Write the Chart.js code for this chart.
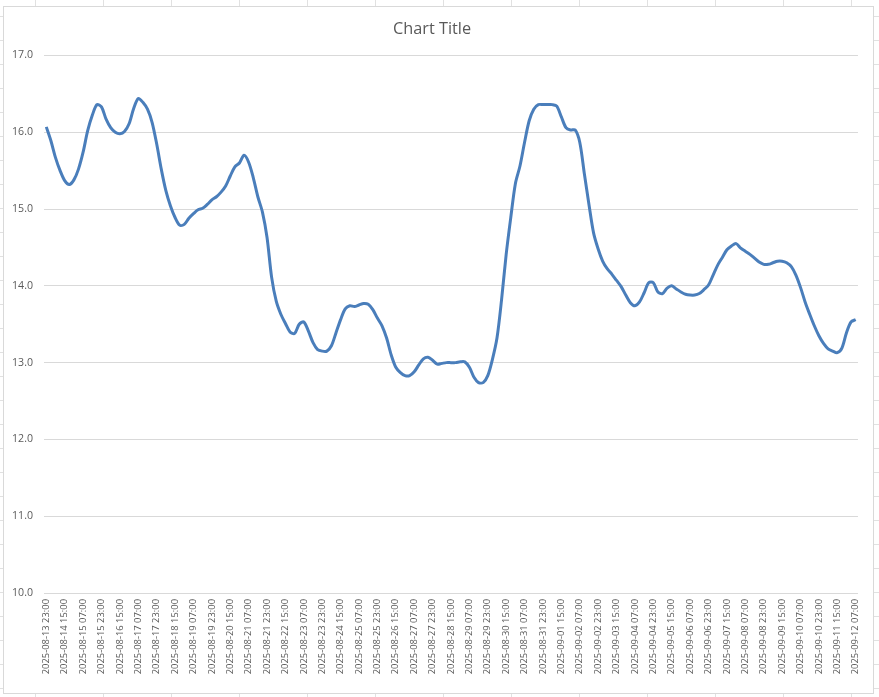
<!DOCTYPE html>
<html>
<head>
<meta charset="utf-8">
<title>Chart Title</title>
<script src="https://cdn.jsdelivr.net/npm/chart.js"></script>
<style>
    html, body { margin: 0; padding: 0; }
    body {
        width: 879px; height: 697px; overflow: hidden;
        background-color: #fff;
        /* spreadsheet cells behind the chart */
        background-image:
            linear-gradient(to right, #e1e1e1 1px, transparent 1px),
            linear-gradient(to bottom, #e1e1e1 1px, transparent 1px);
        background-size: 68px 100%, 100% 24px;
        background-position: 35px 0, 0 16px;
    }
    #chart-box {
        position: absolute; left: 3px; top: 6px;
        width: 869px; height: 686px;
        border: 1px solid #d9d9d9; background: #fff;
    }
</style>
</head>
<body>
<div id="chart-box"><canvas id="tempChart" width="869" height="686"></canvas></div>
<script>
// readings every 4 hours, starting 2025-08-13 23:00
const START_TIME = Date.UTC(2025, 7, 13, 23, 0);
const STEP_HOURS = 4;
const LABEL_EVERY = 4; // only every 4th category gets a tick label (16 h)

const values = [
    16.07, 15.89, 15.67, 15.50, 15.37, 15.32, 15.38, 15.52, 15.74, 16.02,
    16.22, 16.36, 16.33, 16.17, 16.06, 16.00, 15.98, 16.01, 16.11, 16.31,
    16.44, 16.39, 16.30, 16.13, 15.85, 15.52, 15.24, 15.04, 14.89, 14.79,
    14.80, 14.88, 14.94, 14.99, 15.01, 15.06, 15.12, 15.16, 15.22, 15.30,
    15.43, 15.55, 15.60, 15.70, 15.61, 15.41, 15.16, 14.96, 14.63, 14.11,
    13.80, 13.63, 13.51, 13.40, 13.38, 13.50, 13.53, 13.41, 13.26, 13.17,
    13.15, 13.15, 13.22, 13.39, 13.56, 13.70, 13.74, 13.73, 13.75, 13.77,
    13.76, 13.69, 13.58, 13.48, 13.32, 13.10, 12.94, 12.87, 12.83, 12.83,
    12.88, 12.97, 13.05, 13.07, 13.03, 12.98, 12.99, 13.00, 13.00, 13.00,
    13.01, 13.01, 12.94, 12.81, 12.74, 12.74, 12.83, 13.04, 13.32, 13.82,
    14.41, 14.89, 15.33, 15.56, 15.87, 16.15, 16.30, 16.36, 16.36, 16.36,
    16.36, 16.34, 16.20, 16.06, 16.03, 16.03, 15.87, 15.46, 15.06, 14.69,
    14.48, 14.32, 14.22, 14.15, 14.07, 13.99, 13.88, 13.78, 13.74, 13.79,
    13.91, 14.04, 14.04, 13.92, 13.90, 13.97, 14.00, 13.96, 13.92, 13.89,
    13.88, 13.88, 13.90, 13.95, 14.01, 14.14, 14.27, 14.37, 14.47, 14.52,
    14.55, 14.49, 14.45, 14.41, 14.36, 14.31, 14.28, 14.28, 14.30, 14.32,
    14.32, 14.30, 14.25, 14.14, 13.98, 13.79, 13.63, 13.48, 13.35, 13.25,
    13.18, 13.15, 13.13, 13.19, 13.39, 13.53, 13.56
];

const yTicks = [10, 11, 12, 13, 14, 15, 16, 17];

function pad(n) { return (n < 10 ? '0' : '') + n; }

// "2025-08-13 23:00" style category names
function buildCategories(count) {
    const out = [];
    for (let i = 0; i < count; i++) {
        const d = new Date(START_TIME + i * STEP_HOURS * 3600 * 1000);
        out.push(d.getUTCFullYear() + '-' + pad(d.getUTCMonth() + 1) + '-' + pad(d.getUTCDate()) +
            ' ' + pad(d.getUTCHours()) + ':' + pad(d.getUTCMinutes()));
    }
    return out;
}
const categories = buildCategories(values.length);

const TEXT_COLOR = '#595959';
const FONT = 'Open Sans';

new Chart(document.getElementById('tempChart'), {
    type: 'line',
    data: {
        labels: categories,
        datasets: [{
            label: 'Series1',
            data: values,
            borderColor: '#4a7ebb',
            borderWidth: 3,
            pointRadius: 0,
            tension: 0.3,
            fill: false
        }]
    },
    options: {
        responsive: false,
        animation: false,
        layout: { padding: { left: 0, right: 13, top: 0, bottom: 0 } },
        plugins: {
            legend: { display: false },
            tooltip: { enabled: false },
            title: {
                display: true,
                text: 'Chart Title',
                color: TEXT_COLOR,
                font: { family: FONT, size: 16.3, weight: 'normal' },
                padding: { top: 13, bottom: 15.9 }
            }
        },
        scales: {
            x: {
                offset: true,
                grid: { display: false, drawTicks: false },
                border: { display: false },
                ticks: {
                    autoSkip: false,
                    minRotation: 90,
                    maxRotation: 90,
                    padding: 6,
                    color: TEXT_COLOR,
                    font: { family: FONT, size: 9.4 },
                    callback: function(v, i) {
                        return i % LABEL_EVERY === 0 ? this.getLabelForValue(v) : null;
                    }
                },
                afterFit: s => { s.height = 100; }
            },
            y: {
                min: yTicks[0],
                max: yTicks[yTicks.length - 1],
                grid: { color: '#d9d9d9', drawTicks: false },
                border: { display: false },
                afterBuildTicks: s => { s.ticks = yTicks.map(v => ({ value: v })); },
                ticks: {
                    padding: 11,
                    color: TEXT_COLOR,
                    font: { family: FONT, size: 10.6 },
                    callback: v => v.toFixed(1)
                },
                afterFit: s => { s.width = 40; }
            }
        }
    }
});
</script>
</body>
</html>
